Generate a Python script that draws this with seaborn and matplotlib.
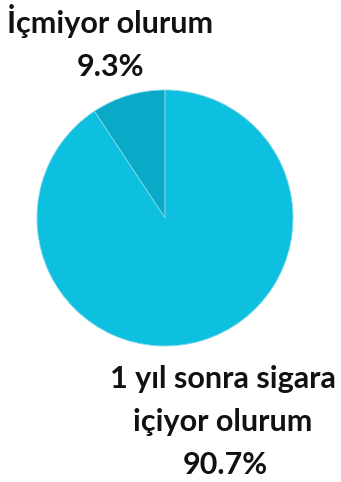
import matplotlib
matplotlib.use("Agg")
import matplotlib.pyplot as plt
import seaborn as sns

# Survey answers: smoking one year later
labels = ["İçmiyor olurum", "1 yıl sonra sigara\niçiyor olurum"]
shares = [9.3, 90.7]
colors = ["#0AA9C8", "#0EC0DF"]

sns.set_theme(style="white")
plt.rcParams["font.family"] = ["Lato", "DejaVu Sans"]

W, H = 341, 482
fig = plt.figure(figsize=(W / 100, H / 100), dpi=100)
cx, cy, r = 165, 218, 128
ax = fig.add_axes([(cx - r) / W, (H - cy - r) / H, 2 * r / W, 2 * r / H])
ax.pie(shares, colors=colors, startangle=90, counterclock=True,
       wedgeprops=dict(linewidth=0.6, edgecolor="#7FD6E8"))
ax.set_xlim(-1, 1)
ax.set_ylim(-1, 1)
ax.set_aspect("equal")
ax.axis("off")

def put(x, y, s):
    fig.text(x / W, 1 - y / H, s, ha="center", va="baseline",
             fontsize=22, fontweight="bold", color="#111111")

# small slice label
put(110, 33, labels[0])
put(110, 76, f"{shares[0]}%")

# large slice label
line_a, line_b = labels[1].split("\n")
put(223, 388, line_a)
put(223, 431, line_b)
put(225, 474, f"{shares[1]}%")

fig.savefig("out.png", dpi=100)
